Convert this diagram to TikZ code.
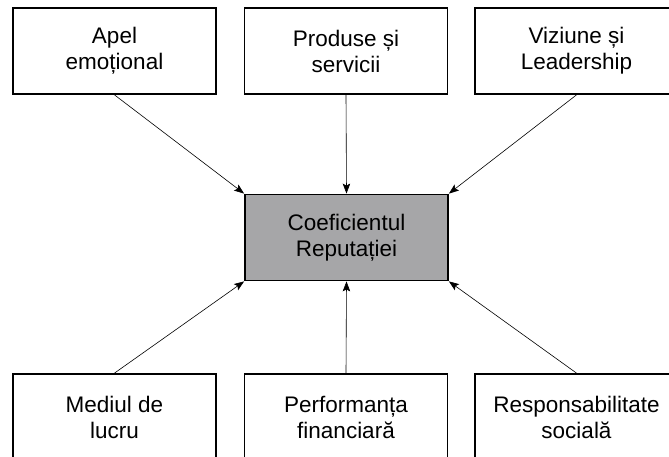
\documentclass[tikz,border=0pt]{standalone}
\usepackage{fontspec}
\setmainfont{Liberation Sans}
\usetikzlibrary{arrows.meta}

\begin{document}
\begin{tikzpicture}[x=1pt,y=1pt,
    factor/.style={draw=black,line width=1.8pt,minimum width=203pt,minimum height=86pt,
      align=center,inner sep=0pt,font=\fontsize{22.5}{26}\selectfont},
    link/.style={line width=0.6pt,-{Stealth[length=10pt,width=7.5pt,inset=2pt]}}]
    \useasboundingbox (0,0) rectangle (669,457);
    % top row
    \node[factor] (apel) at (114.5,406) {Apel\\emoțional};
    \node[factor] (produse) at (346,406) {Produse și\\servicii};
    \node[factor] (viziune) at (576.5,406) {Viziune și\\Leadership};
    % centre
    \node[factor,fill={rgb,255:red,166;green,166;blue,168}] (coef) at (346.5,219.5) {Coeficientul\\Reputației};
    % bottom row
    \node[factor] (mediu) at (114.5,40) {Mediul de\\lucru};
    \node[factor] (perf) at (346,40) {Performanța\\financiară};
    \node[factor] (resp) at (576.5,40) {Responsabilitate\\socială};
    % links
    \draw[link] (apel.south) -- (coef.north west);
    \draw[link] (produse.south) -- (coef.north);
    \draw[link] (viziune.south) -- (coef.north east);
    \draw[link] (mediu.north) -- (coef.south west);
    \draw[link] (perf.north) -- (coef.south);
    \draw[link] (resp.north) -- (coef.south east);
\end{tikzpicture}
\end{document}
